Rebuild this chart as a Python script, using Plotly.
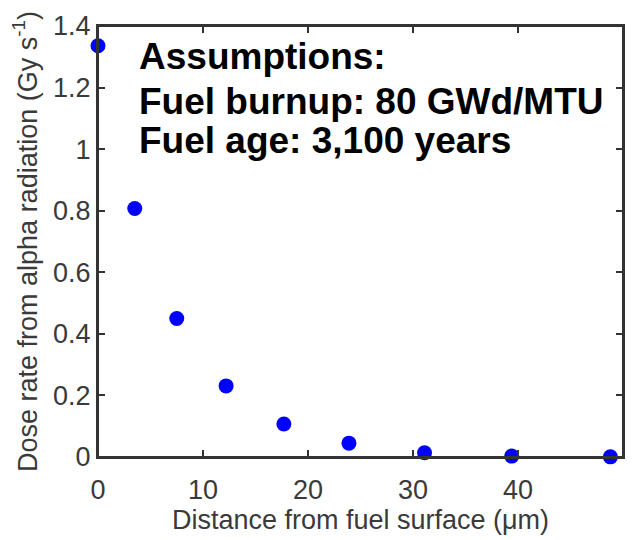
import plotly.graph_objects as go

# Data
distance_um = [0.0, 3.5, 7.5, 12.2, 17.7, 23.9, 31.1, 39.4, 48.8]
dose_rate = [1.336, 0.807, 0.450, 0.231, 0.107, 0.045, 0.014, 0.003, 0.0005]

x_ticks = [0, 10, 20, 30, 40, 50]
y_ticks = [0, 0.2, 0.4, 0.6, 0.8, 1.0, 1.2, 1.4]
y_tick_labels = ["0", "0.2", "0.4", "0.6", "0.8", "1", "1.2", "1.4"]

note_lines = ["Assumptions:", "Fuel burnup: 80 GWd/MTU", "Fuel age: 3,100 years"]

W, H = 636, 540
L, R, T, B = 98, 11, 20, 79
ph = H - T - B

fig = go.Figure()
fig.add_trace(go.Scatter(
    x=distance_um, y=dose_rate, mode="markers",
    marker=dict(color="#0000ff", size=15, line=dict(width=0)),
    cliponaxis=False, showlegend=False,
))

font_family = "Liberation Sans, Arial, sans-serif"
axis_color = "#333333"
text_color = "#3a3a3a"

fig.update_xaxes(
    range=[0, 50], tickvals=x_ticks, ticks="inside", ticklen=7, tickwidth=1.5,
    tickcolor=axis_color, showline=True, linecolor=axis_color, linewidth=2,
    mirror="ticks", showgrid=False, zeroline=False, ticklabelstandoff=8,
    tickfont=dict(family=font_family, size=27, color=text_color),
    title=dict(text="Distance from fuel surface (μm)",
               font=dict(family=font_family, size=27, color=text_color), standoff=5),
)
fig.update_yaxes(
    range=[0, 1.4], tickvals=y_ticks, ticktext=y_tick_labels, ticks="inside",
    ticklen=7, tickwidth=1.5, tickcolor=axis_color, showline=True,
    linecolor=axis_color, linewidth=2, mirror="ticks", showgrid=False,
    zeroline=False,
    tickfont=dict(family=font_family, size=27, color=text_color),
    title=dict(text="Dose rate from alpha radiation (Gy s<sup>-1</sup>)",
               font=dict(family=font_family, size=27, color=text_color), standoff=8),
)

# axes frame (box on)
fig.add_shape(type="rect", xref="paper", yref="paper", x0=0, y0=0, x1=1, y1=1,
              line=dict(color=axis_color, width=2), fillcolor="rgba(0,0,0,0)",
              layer="above")

line_pix = [51, 97, 137]
for txt, yp in zip(note_lines, line_pix):
    fig.add_annotation(
        text="<b>%s</b>" % txt, xref="paper", yref="paper",
        x=(137 - L) / (W - L - R), y=(H - B - yp) / ph,
        xanchor="left", yanchor="middle", showarrow=False,
        font=dict(family=font_family, size=37, color="black"),
    )

fig.update_layout(
    width=W, height=H, margin=dict(l=L, r=R, t=T, b=B),
    paper_bgcolor="white", plot_bgcolor="white",
)

fig.write_html("out.html", config={"displayModeBar": False},
               post_script="document.body.style.margin='0';")
